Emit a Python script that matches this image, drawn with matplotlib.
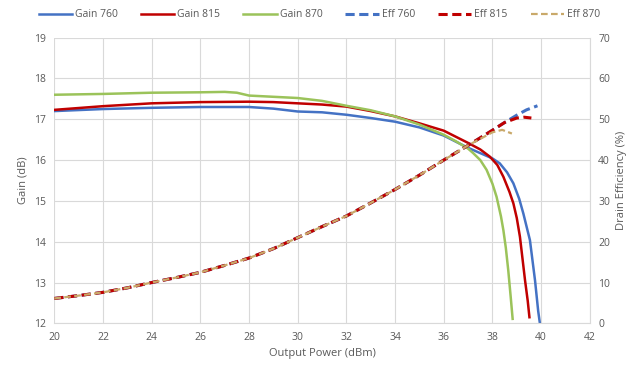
import numpy as np
import matplotlib.pyplot as plt

# output power (dBm) and gain (dB) per frequency
gain_760_x = [20, 22, 24, 26, 28, 29, 30, 31, 32, 33, 34, 35, 36, 37, 37.5, 38.0, 38.3, 38.6, 38.86, 39.1, 39.27, 39.54, 39.75, 39.88, 39.95]
gain_760_y = [17.2, 17.25, 17.28, 17.3, 17.3, 17.26, 17.19, 17.17, 17.11, 17.03, 16.94, 16.8, 16.6, 16.3, 16.17, 16.04, 15.92, 15.7, 15.43, 15.05, 14.69, 14.04, 13.05, 12.3, 12.0]

gain_815_x = [20, 22, 24, 26, 28, 29, 30, 31, 32, 33, 34, 35, 36, 37, 37.5, 37.9, 38.2, 38.45, 38.7, 38.86, 39.0, 39.13, 39.34, 39.45, 39.52]
gain_815_y = [17.23, 17.32, 17.39, 17.42, 17.43, 17.42, 17.39, 17.36, 17.31, 17.2, 17.07, 16.9, 16.72, 16.42, 16.26, 16.08, 15.88, 15.59, 15.22, 14.94, 14.58, 14.12, 13.05, 12.55, 12.15]

gain_870_x = [20, 22, 24, 26, 27, 27.5, 28, 29, 30, 31, 32, 33, 34, 35, 36, 36.5, 37.0, 37.21, 37.5, 37.76, 38.0, 38.17, 38.35, 38.45, 38.55, 38.65, 38.75, 38.83]
gain_870_y = [17.6, 17.62, 17.65, 17.66, 17.67, 17.65, 17.58, 17.55, 17.52, 17.45, 17.33, 17.22, 17.07, 16.87, 16.62, 16.46, 16.28, 16.17, 16.0, 15.76, 15.42, 15.1, 14.62, 14.28, 13.85, 13.3, 12.65, 12.11]

# drain efficiency (%)
eff_760_x = [20, 21, 22, 23, 24, 25, 26, 27, 28, 29, 30, 31, 32, 33, 34, 35, 36, 37, 38, 38.5, 39.0, 39.4, 39.85]
eff_760_y = [6.1, 6.8, 7.6, 8.7, 10, 11.2, 12.5, 14.2, 16, 18.3, 21, 23.7, 26.3, 29.5, 32.8, 36.3, 40, 43.6, 47.3, 49.2, 51.0, 52.3, 53.3]

eff_815_x = [20, 21, 22, 23, 24, 25, 26, 27, 28, 29, 30, 31, 32, 33, 34, 35, 36, 37, 38, 38.5, 39.0, 39.3, 39.6]
eff_815_y = [6.1, 6.8, 7.6, 8.7, 10, 11.2, 12.5, 14.2, 16, 18.3, 21, 23.7, 26.3, 29.5, 32.8, 36.3, 40, 43.6, 47.3, 49.2, 50.3, 50.5, 50.3]

eff_870_x = [20, 21, 22, 23, 24, 25, 26, 27, 28, 29, 30, 31, 32, 33, 34, 35, 36, 37, 38, 38.4, 38.8]
eff_870_y = [6.1, 6.8, 7.6, 8.7, 10, 11.2, 12.5, 14.2, 16, 18.3, 21, 23.7, 26.3, 29.5, 32.8, 36.3, 40, 43.6, 46.8, 47.4, 46.5]

BLUE = '#4472C4'
RED = '#C00000'
GREEN = '#9BC35A'
GREY = '#595959'

plt.rcParams['font.family'] = ['Open Sans', 'DejaVu Sans']

fig, ax = plt.subplots(figsize=(6.39, 3.76), dpi=100)
fig.subplots_adjust(left=0.085, right=0.923, top=0.9, bottom=0.14)
ax2 = ax.twinx()

l1, = ax.plot(gain_760_x, gain_760_y, color=BLUE, lw=1.8, label='Gain 760')
l2, = ax.plot(gain_815_x, gain_815_y, color=RED, lw=1.8, label='Gain 815')
l3, = ax.plot(gain_870_x, gain_870_y, color=GREEN, lw=1.8, label='Gain 870')

d1, = ax2.plot(eff_760_x, eff_760_y, color=BLUE, lw=2.2, ls=(0, (3, 1.5)), label='Eff 760')
d2, = ax2.plot(eff_815_x, eff_815_y, color=RED, lw=2.2, ls=(0, (3, 1.5)), label='Eff 815')
d3, = ax2.plot(eff_870_x, eff_870_y, color='#C9A96A', lw=1.6, ls=(0, (3, 1.5)), label='Eff 870')

ax.set_xlim(20, 42)
ax.set_ylim(12, 19)
ax2.set_ylim(0, 70)
ax.set_xticks(np.arange(20, 43, 2))
ax.set_yticks(np.arange(12, 20, 1))
ax2.set_yticks(np.arange(0, 71, 10))

ax.grid(True, color='#D9D9D9', lw=0.8)
ax.set_axisbelow(True)

for a in (ax, ax2):
    for s in a.spines.values():
        s.set_visible(False)
    a.tick_params(length=0, labelsize=7.5, colors=GREY, pad=6)
ax.spines['bottom'].set_visible(True)
ax.spines['bottom'].set_color('#D9D9D9')
ax2.spines['right'].set_visible(True)
ax2.spines['right'].set_color('#D9D9D9')

ax.set_xlabel('Output Power (dBm)', fontsize=8, color=GREY)
ax.set_ylabel('Gain (dB)', fontsize=8, color=GREY)
ax2.set_ylabel('Drain Efficiency (%)', fontsize=8, color=GREY)

fig.legend(handles=[l1, l2, l3, d1, d2, d3], loc='upper center', ncol=6,
           bbox_to_anchor=(0.5, 1.0), frameon=False, fontsize=7.5,
           labelcolor=GREY, handlelength=3.2, columnspacing=2.2, handletextpad=0.3)

fig.savefig('out.png', dpi=100)
